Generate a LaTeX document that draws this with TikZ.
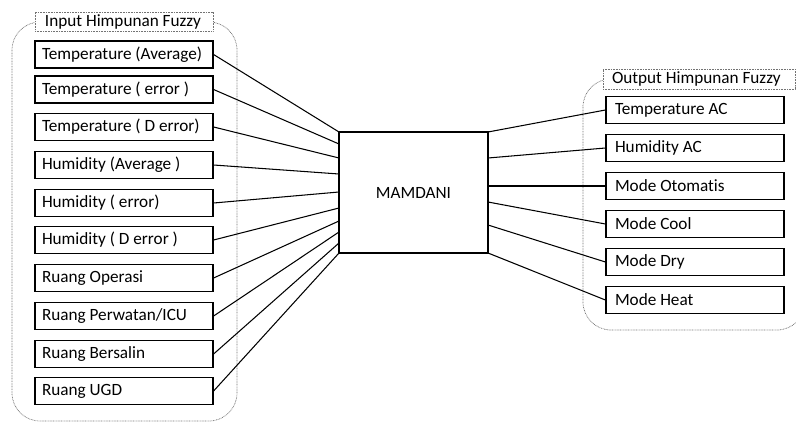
\documentclass[tikz,border=0pt]{standalone}
\usepackage{fontspec}
\setmainfont{Carlito}[RawFeature={-liga}]
\newcommand{\lftxt}[2]{\makebox[#1][l]{#2}}
\begin{document}
\begin{tikzpicture}[x=1pt,y=-1pt,
  every node/.style={font=\fontsize{17.2}{20}\selectfont},
  inbox/.style={draw=black,line width=1.2pt,fill=white,minimum width=178pt,minimum height=27pt,
    inner ysep=0pt,inner xsep=7pt},
  outbox/.style={draw=black,line width=1.2pt,fill=white,minimum width=178pt,minimum height=27pt,
    inner ysep=0pt,inner xsep=9pt},
  grp/.style={draw=black!55,line width=0.7pt,dash pattern=on 0.8pt off 0.8pt,rounded corners=28pt},
  grplabel/.style={draw=black!55,line width=0.7pt,dash pattern=on 0.8pt off 0.8pt,fill=white,
    inner ysep=0pt},
  conn/.style={draw=black,line width=1.05pt}]
\useasboundingbox (0,0) rectangle (796,423);
\clip (0,0) rectangle (796,423);
% groups
\draw[grp] (12,22) rectangle (237,421);
\draw[grp] (583,79) rectangle (805,330);
\node[grplabel,minimum width=178pt,minimum height=19pt,inner xsep=10pt] (inlabel) at (124,21.5) {\lftxt{158pt}{Input Himpunan Fuzzy}};
\node[grplabel,minimum width=192pt,minimum height=20pt,inner xsep=9pt] (outlabel) at (699,79) {\lftxt{174pt}{Output Himpunan Fuzzy}};
% mamdani
\node[draw=black,line width=1.2pt,fill=white,minimum width=149pt,minimum height=121pt,inner sep=0pt] (m) at (413.5,192.5) {MAMDANI};
% input boxes
\node[inbox] (i1) at (124,54.5) {\lftxt{164pt}{Temperature (Average)}};
\node[inbox] (i2) at (124,89.5) {\lftxt{164pt}{Temperature ( error )}};
\node[inbox] (i3) at (124,127) {\lftxt{164pt}{Temperature ( D error)}};
\node[inbox] (i4) at (124,165) {\lftxt{164pt}{Humidity (Average )}};
\node[inbox] (i5) at (124,203) {\lftxt{164pt}{Humidity ( error)}};
\node[inbox] (i6) at (124,240) {\lftxt{164pt}{Humidity ( D error )}};
\node[inbox] (i7) at (124,278) {\lftxt{164pt}{Ruang Operasi}};
\node[inbox] (i8) at (124,316) {\lftxt{164pt}{Ruang Perwatan/ICU}};
\node[inbox] (i9) at (124,354) {\lftxt{164pt}{Ruang Bersalin}};
\node[inbox] (i10) at (124,391) {\lftxt{164pt}{Ruang UGD}};
% output boxes
\node[outbox] (o1) at (695,110) {\lftxt{160pt}{Temperature AC}};
\node[outbox] (o2) at (695,148) {\lftxt{160pt}{Humidity AC}};
\node[outbox] (o3) at (695,186) {\lftxt{160pt}{Mode Otomatis}};
\node[outbox] (o4) at (695,224) {\lftxt{160pt}{Mode Cool}};
\node[outbox] (o5) at (695,262) {\lftxt{160pt}{Mode Dry}};
\node[outbox] (o6) at (695,300) {\lftxt{160pt}{Mode Heat}};
% endpoints on MAMDANI
\foreach \n/\y in {1/132,2/144,3/158,4/174,5/192,6/208,7/221,8/232,9/243,10/253}
  \coordinate (mL\n) at (339,\y);
\foreach \n/\y in {1/132,2/158,3/186,4/202,5/225,6/253}
  \coordinate (mR\n) at (488,\y);
\foreach \n in {1,...,10}
  \draw[conn] (i\n.east) -- (mL\n);
\foreach \n in {1,...,6}
  \draw[conn] (mR\n) -- (o\n.west);
\end{tikzpicture}
\end{document}
